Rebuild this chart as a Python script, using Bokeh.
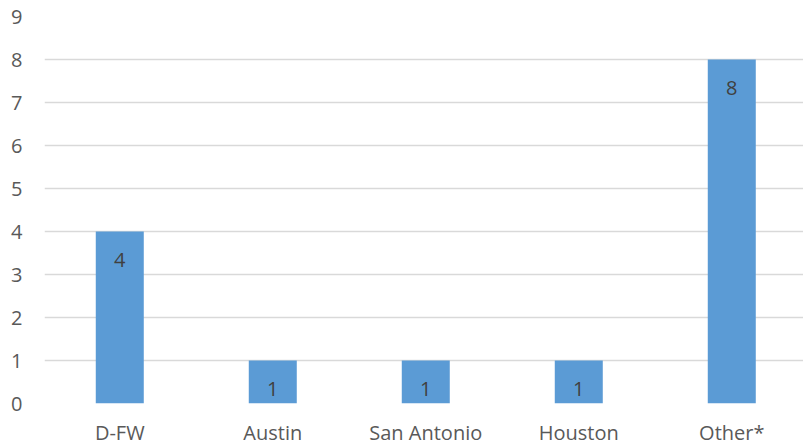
from bokeh.plotting import figure
from bokeh.models import Range1d, ColumnDataSource, FixedTicker, LabelSet
from bokeh.core.properties import value
from bokeh.embed import file_html
from bokeh.resources import INLINE

categories = ["D-FW", "Austin", "San Antonio", "Houston", "Other*"]
values = [4, 1, 1, 1, 8]
y_ticks = [0, 1, 2, 3, 4, 5, 6, 7, 8, 9]

xs = [i + 0.5 for i in range(len(categories))]
src = ColumnDataSource(dict(x=xs, top=values, label=[str(v) for v in values], cat=categories))

p = figure(width=803, height=448, output_backend="svg", toolbar_location=None,
           x_range=Range1d(0.008, 759 / 153 + 0.008), y_range=Range1d(0, 9),
           min_border_left=44, min_border_right=0, min_border_top=16, min_border_bottom=45)
p.outline_line_color = None
p.background_fill_color = "white"
p.border_fill_color = "white"

p.vbar(x="x", top="top", width=48 / 153, bottom=0, source=src,
       fill_color="#5B9BD5", line_color=None)

labels = LabelSet(x="x", y="top", text="label", source=src, y_offset=-28,
                  text_align="center", text_baseline="middle",
                  text_font=value("Open Sans"), text_font_size="20px", text_color="#404040")
p.add_layout(labels)

p.xaxis.ticker = FixedTicker(ticks=xs)
p.xaxis.major_label_overrides = {x: c for x, c in zip(xs, categories)}
p.yaxis.ticker = FixedTicker(ticks=y_ticks)

for ax in (p.xaxis[0], p.yaxis[0]):
    ax.axis_line_color = None
    ax.major_tick_line_color = None
    ax.minor_tick_line_color = None
    ax.major_tick_out = 0
    ax.major_tick_in = 0
    ax.minor_tick_out = 0
    ax.minor_tick_in = 0
    ax.major_label_text_font = "Open Sans"
    ax.major_label_text_font_size = "20px"
    ax.major_label_text_color = "#595959"

p.xaxis.major_label_standoff = 15
p.yaxis.major_label_standoff = 22

p.xgrid.grid_line_color = None
p.ygrid.ticker = FixedTicker(ticks=y_ticks)
p.ygrid.grid_line_color = "#d9d9d9"
p.ygrid.grid_line_width = 1.5

open("out.html", "w").write(file_html(p, INLINE))
